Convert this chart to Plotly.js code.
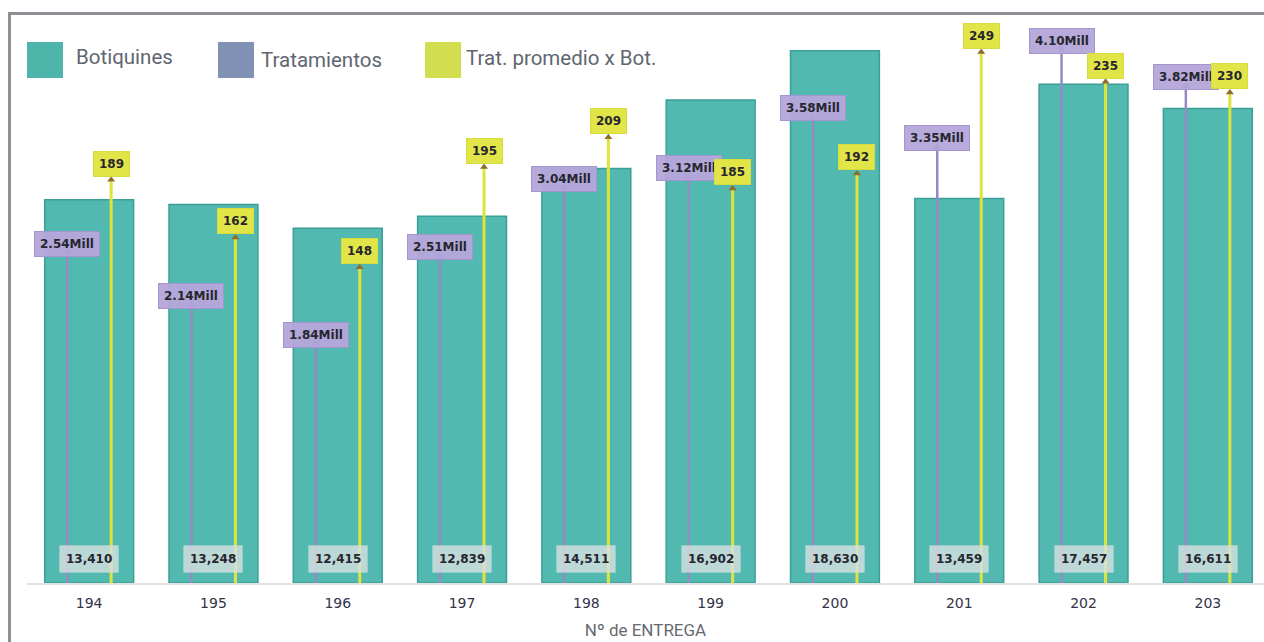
<!DOCTYPE html>
<html>
<head>
<meta charset="utf-8">
<script src="https://cdn.plot.ly/plotly-3.0.1.min.js"></script>
<style>
  html, body { margin: 0; padding: 0; background: #fff; overflow: hidden; }
  #chart { position: absolute; left: 0; top: 0; width: 1264px; height: 642px; }
  #frame { position: absolute; left: 8px; top: 12px; width: 1264px; height: 640px;
           border-left: 3px solid #8d9094; border-top: 3px solid #8d9094; pointer-events: none; }
</style>
</head>
<body>
<div id="chart"></div>
<div id="frame"></div>
<script>
// ---- data ----
const entregas = ['194','195','196','197','198','199','200','201','202','203'];
const botiquines = [13410, 13248, 12415, 12839, 14511, 16902, 18630, 13459, 17457, 16611];
const tratamientosMill = [2.54, 2.14, 1.84, 2.51, 3.04, 3.12, 3.58, 3.35, 4.10, 3.82];
const tratPromedio = [189, 162, 148, 195, 209, 185, 192, 249, 235, 230];
const legendNames = ['Botiquines', 'Tratamientos', 'Trat. promedio x Bot.'];

// ---- styling / geometry ----
const colBar = '#52b9b1', colBarEdge = '#3a9f97';
const colPurpleLine = '#9889c6', colPurpleMark = '#3d3299';
const colYellowLine = '#dde43c', colYellowMark = '#8f6d2c';
const off = 0.177;
const idx = entregas.map((_, i) => i);

const W = 1264, H = 642, ML = 27, MR = 0, MT = 20, MB = 59;
const PW = W - ML - MR, PH = H - MT - MB;
const px2x = p => (p - ML) / PW;
const py2y = p => (H - MB - p) / PH;

// lines built from data
const pLx = [], pLy = [], yLx = [], yLy = [];
idx.forEach(i => {
  pLx.push(i - off, i - off, null); pLy.push(0, tratamientosMill[i], null);
  yLx.push(i + off, i + off, null); yLy.push(0, tratPromedio[i], null);
});

const traces = [
  { type: 'bar', x: idx, y: botiquines, width: 0.715, yaxis: 'y',
    marker: { color: colBar, line: { color: colBarEdge, width: 1.5 } },
    hoverinfo: 'skip', showlegend: false },
  { type: 'scatter', mode: 'lines', x: pLx, y: pLy, yaxis: 'y2',
    line: { color: colPurpleLine, width: 2.5 }, hoverinfo: 'skip', showlegend: false },
  { type: 'scatter', mode: 'markers', x: idx.map(i => i - off), y: tratamientosMill, yaxis: 'y2',
    marker: { symbol: 'triangle-up', size: 8, color: colPurpleMark }, hoverinfo: 'skip', showlegend: false },
  { type: 'scatter', mode: 'lines', x: yLx, y: yLy, yaxis: 'y3',
    line: { color: colYellowLine, width: 3 }, hoverinfo: 'skip', showlegend: false },
  { type: 'scatter', mode: 'markers', x: idx.map(i => i + off), y: tratPromedio, yaxis: 'y3',
    marker: { symbol: 'triangle-up', size: 7, color: colYellowMark }, hoverinfo: 'skip', showlegend: false }
];

const labFont = { family: 'DejaVu Sans', size: 12, color: '#26262f' };
const annotations = [];
// bar value labels
idx.forEach(i => annotations.push({
  x: i, y: 0, xref: 'x', yref: 'y', yanchor: 'bottom', yshift: 10, showarrow: false,
  text: '<b>' + botiquines[i].toLocaleString('en-US') + '</b>', font: labFont,
  bgcolor: 'rgba(218,224,226,0.78)', bordercolor: 'rgba(218,224,226,0.2)', borderwidth: 1, borderpad: 6
}));
// tratamientos labels
idx.forEach(i => annotations.push({
  x: i - off, y: tratamientosMill[i], xref: 'x', yref: 'y2', yanchor: 'bottom', yshift: -4, showarrow: false,
  text: '<b>' + tratamientosMill[i].toFixed(2) + 'Mill</b>', font: labFont,
  bgcolor: 'rgba(181,167,218,0.96)', bordercolor: '#a395cf', borderwidth: 1, borderpad: 5
}));
// promedio labels
idx.forEach(i => annotations.push({
  x: i + off, y: tratPromedio[i], xref: 'x', yref: 'y3', yanchor: 'bottom', yshift: 3, showarrow: false,
  text: '<b>' + tratPromedio[i] + '</b>', font: labFont,
  bgcolor: '#e2e548', bordercolor: '#d6db3e', borderwidth: 1, borderpad: 5
}));

// custom legend
const legColors = ['#4eb5ab', '#8190b5', '#d3de4f'];
const legSq = [27, 218, 425];
const legTx = [74, 259, 464];
const legTy = [57, 60, 58];
const shapes = [];
legendNames.forEach((n, k) => {
  shapes.push({ type: 'rect', xref: 'paper', yref: 'paper',
    x0: px2x(legSq[k]), x1: px2x(legSq[k] + 36), y0: py2y(78), y1: py2y(42),
    fillcolor: legColors[k], line: { width: 0 } });
  annotations.push({ xref: 'paper', yref: 'paper', x: px2x(legTx[k]), y: py2y(legTy[k]),
    xanchor: 'left', yanchor: 'middle', showarrow: false, text: n,
    font: { family: 'Roboto', size: 20.5, color: '#5f6670' } });
});

const layout = {
  width: W, height: H,
  margin: { l: ML, r: MR, t: MT, b: MB, pad: 0 },
  paper_bgcolor: '#ffffff', plot_bgcolor: '#ffffff',
  showlegend: false,
  xaxis: {
    range: [-0.5, PW / 124.3 - 0.5], tickvals: idx, ticktext: entregas,
    showgrid: false, zeroline: false, showline: true, linecolor: '#e2e2e2', linewidth: 2,
    ticks: 'outside', ticklen: 6, tickcolor: 'rgba(0,0,0,0)',
    tickfont: { family: 'DejaVu Sans', size: 14, color: '#33334a' },
    title: { text: 'Nº de ENTREGA', font: { family: 'Roboto', size: 17, color: '#666a70' }, standoff: 14 },
    automargin: false, fixedrange: true
  },
  yaxis: { range: [0, PH / 0.028571], visible: false, showgrid: false, zeroline: false, fixedrange: true },
  yaxis2: { range: [0, PH / 130.1], overlaying: 'y', visible: false, showgrid: false, zeroline: false, fixedrange: true },
  yaxis3: { range: [0, PH / 2.133], overlaying: 'y', visible: false, showgrid: false, zeroline: false, fixedrange: true },
  annotations: annotations,
  shapes: shapes
};

Plotly.newPlot('chart', traces, layout, { staticPlot: true, displayModeBar: false });
</script>
</body>
</html>
